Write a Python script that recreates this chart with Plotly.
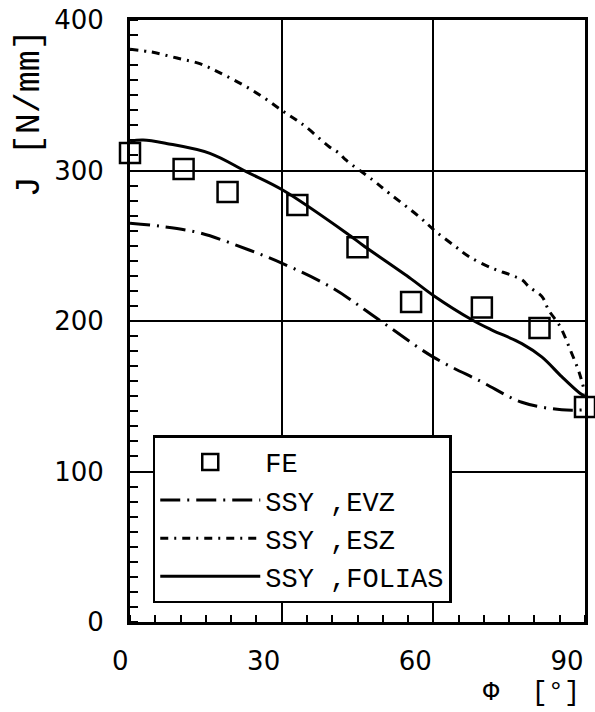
import plotly.graph_objects as go

# ---- data ----
phi_fe = [0, 10.6, 19.3, 33.1, 45.0, 55.6, 69.6, 81.0, 90.0]
j_fe = [311.6, 301.0, 285.7, 277.0, 249.0, 212.6, 209.0, 195.3, 142.9]

phi_evz = [0, 5.9, 13.8, 23.7, 30, 40, 49.3, 60, 69.6, 77.5, 85.4, 90]
j_evz = [265, 263, 258.5, 247, 238.5, 222, 200.7, 176, 159.5, 146, 141, 141]

phi_esz = [0, 4.3, 9.3, 13.8, 17.7, 22.3, 26.2, 30, 32.9, 34.8, 39.4, 41.4, 42.7,
           48, 51.3, 57.2, 60.5, 64.4, 67.1, 71.7, 75.3, 77.6, 78.9, 81.5, 82.8,
           85.1, 87.1, 88.8, 90]
j_esz = [380.5, 378.7, 374.7, 371, 365, 357, 349, 340, 333.6, 329, 315.8, 311.4, 307,
         293.7, 284.8, 269.3, 259.4, 249.4, 242.7, 235, 230.6, 227.2, 222.8, 216.2, 207.3,
         196.2, 180.7, 166.3, 152]

phi_fol = [0, 2.6, 7.2, 15.8, 23, 30.2, 43.4, 46, 55.6, 60, 67.7, 71.6, 77.5, 81.5,
           85.4, 89, 90]
j_fol = [319.6, 320.3, 318, 311.4, 299.2, 287, 257, 250.5, 228, 217, 200.7, 194, 185,
         176, 163, 152, 150]

x_ticks = [0, 30, 60, 90]
x_ticktext = ["\u20070", "30", "60", "90"]
y_ticks = [0, 100, 200, 300, 400]

names = ["FE", "SSY ,EVZ", "SSY ,ESZ", "SSY ,FOLIAS"]

TICKFONT = dict(family="DejaVu Sans", size=26, color="black")
TEXTFONT = dict(family="Liberation Mono", size=27, color="black")

fig = go.Figure()
fig.add_trace(go.Scatter(x=phi_evz, y=j_evz, mode="lines", name=names[1], legendrank=2,
                         line=dict(color="black", width=3, dash="20px,7px,2px,7px",
                                   shape="spline", smoothing=1.0)))
fig.add_trace(go.Scatter(x=phi_esz, y=j_esz, mode="lines", name=names[2], legendrank=3,
                         line=dict(color="black", width=3, dash="8px,6px,2px,6px",
                                   shape="spline", smoothing=1.0)))
fig.add_trace(go.Scatter(x=phi_fol, y=j_fol, mode="lines", name=names[3], legendrank=4,
                         line=dict(color="black", width=3, shape="spline", smoothing=1.0)))
fig.add_trace(go.Scatter(x=phi_fe, y=j_fe, mode="markers", name=names[0], legendrank=1,
                         cliponaxis=False,
                         marker=dict(symbol="square-open", size=20, color="black",
                                     line=dict(width=2.5, color="black"))))

fig.update_layout(
    width=595, height=712,
    margin=dict(l=130, r=10, t=20, b=90, autoexpand=False),
    paper_bgcolor="white", plot_bgcolor="white",
    showlegend=True,
    legend=dict(x=0.05, y=0.31, xanchor="left", yanchor="top",
                bgcolor="white", bordercolor="black", borderwidth=2.5,
                font=TEXTFONT, itemwidth=100),
    annotations=[
        dict(text="J [N/mm]", xref="paper", yref="paper",
             x=-0.22, y=0.845, xanchor="center", yanchor="middle",
             textangle=-90, showarrow=False,
             font=dict(family="Liberation Mono", size=35, color="black")),
        dict(text="\u03a6\u00a0\u00a0[\u00b0]", xref="paper", yref="paper",
             x=0.8835, y=-0.118, xanchor="center", yanchor="middle",
             showarrow=False, font=TEXTFONT),
    ],
)

fig.update_xaxes(
    range=[0, 90], tickmode="array", tickvals=x_ticks, automargin=False,
    ticktext=x_ticktext, tickfont=TICKFONT, ticklabeloverflow="allow",
    ticks="", ticklabelshift=-18, ticklabelstandoff=14,
    showline=True, linecolor="black", linewidth=3, mirror=True,
    showgrid=True, gridcolor="black", gridwidth=1.5, zeroline=False,
    minor=dict(dtick=5, tick0=0, ticks="inside", ticklen=7, tickwidth=1.5,
               tickcolor="black", showgrid=False),
)
fig.update_yaxes(
    range=[0, 400], tickmode="array", tickvals=y_ticks, automargin=False,
    ticktext=[str(v) for v in y_ticks], tickfont=TICKFONT, ticklabeloverflow="allow",
    ticks="", ticklabelstandoff=18,
    showline=True, linecolor="black", linewidth=3, mirror=True,
    showgrid=True, gridcolor="black", gridwidth=1.5, zeroline=False,
    minor=dict(dtick=10, tick0=0, ticks="inside", ticklen=8, tickwidth=1.5,
               tickcolor="black", showgrid=False),
)

# remove the browser's default 8px body margin so the figure sits at the page origin
fig.write_html("out.html", config={"displayModeBar": False},
               post_script="document.body.style.margin='0';")
